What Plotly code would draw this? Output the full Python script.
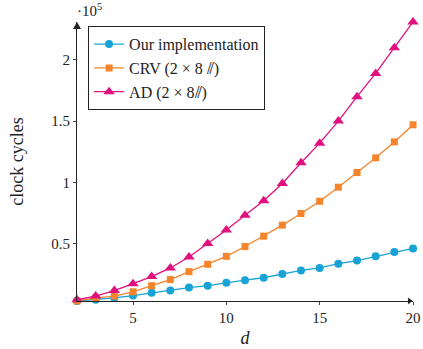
import plotly.graph_objects as go

d = list(range(2, 21))
ours = [3000, 4000, 5500, 7400, 9700, 11500, 14000, 15500, 18000, 20000,
        22000, 25000, 28000, 30000, 33500, 36000, 39500, 43000, 46000]
crv = [3000, 5500, 7000, 10500, 15500, 20500, 27000, 33000, 39500, 47500,
       56000, 65000, 74500, 84500, 96000, 108000, 120000, 133000, 147000]
ad = [4000, 7000, 11500, 17000, 23000, 30000, 39000, 50000, 61000, 73000,
      85000, 99000, 116000, 132000, 150000, 170000, 189000, 210000, 231000]

names = ["Our implementation", "CRV (2 × 8 ⫽)", "AD (2 × 8⫽)"]
colors = ["#18A3D6", "#F5842A", "#E0117F"]
symbols = ["circle", "square", "triangle-up"]
sizes = [8, 7, 10]
ytickvals = [50000, 100000, 150000, 200000]
yticktext = ["0.5", "1", "1.5", "2"]
xtickvals = [5, 10, 15, 20]

FONT = "Liberation Serif, DejaVu Serif, serif"

fig = go.Figure()
for name, ys, c, s, sz in zip(names, [ours, crv, ad], colors, symbols, sizes):
    fig.add_trace(go.Scatter(
        x=d, y=ys, name=name, mode="lines+markers",
        line=dict(color=c, width=1.3),
        marker=dict(symbol=s, size=sz, color=c),
        cliponaxis=False,
    ))

fig.update_layout(
    width=423, height=349,
    margin=dict(l=77, r=10, t=22, b=48, autoexpand=False),
    paper_bgcolor="white", plot_bgcolor="white",
    font=dict(family=FONT, size=15, color="#222"),
    showlegend=True,
    legend=dict(x=0.033, y=0.985, xanchor="left", yanchor="top",
                bordercolor="#222", borderwidth=1, bgcolor="white",
                font=dict(family=FONT, size=16), tracegroupgap=0,
                itemwidth=30),
    xaxis=dict(range=[2, 20], tickvals=xtickvals, showgrid=False, zeroline=False,
               showline=True, linecolor="#222", linewidth=1, automargin=False,
               ticks="outside", ticklen=3, tickcolor="#444",
               title=dict(text="<i>d</i>", standoff=6)),
    yaxis=dict(range=[3000, 231000], tickvals=ytickvals, ticktext=yticktext,
               showgrid=False, zeroline=False, automargin=False,
               showline=True, linecolor="#222", linewidth=1,
               ticks="outside", ticklen=3, tickcolor="#444",
               title=dict(text="clock cycles", standoff=22)),
)

# axis arrowheads (paper coordinates) and scale label
fig.add_shape(type="path", xref="paper", yref="paper",
              path="M 1.0,0 L 0.985,0.012 L 0.985,-0.012 Z",
              fillcolor="#222", line=dict(width=0))
fig.add_shape(type="path", xref="paper", yref="paper",
              path="M 0,1.0 L -0.012,0.975 L 0.012,0.975 Z",
              fillcolor="#222", line=dict(width=0))
fig.add_annotation(x=0, y=1.0, xref="paper", yref="paper", xanchor="left",
                   yanchor="bottom", yshift=1, xshift=-2, showarrow=False,
                   text="·10<sup>5</sup>", font=dict(family=FONT, size=15))

# remove the default page margin so the figure fills the window exactly
fig.write_html("out.html",
               config={"displayModeBar": False},
               post_script="document.body.style.margin='0';"
                           "document.body.style.overflow='hidden';")
